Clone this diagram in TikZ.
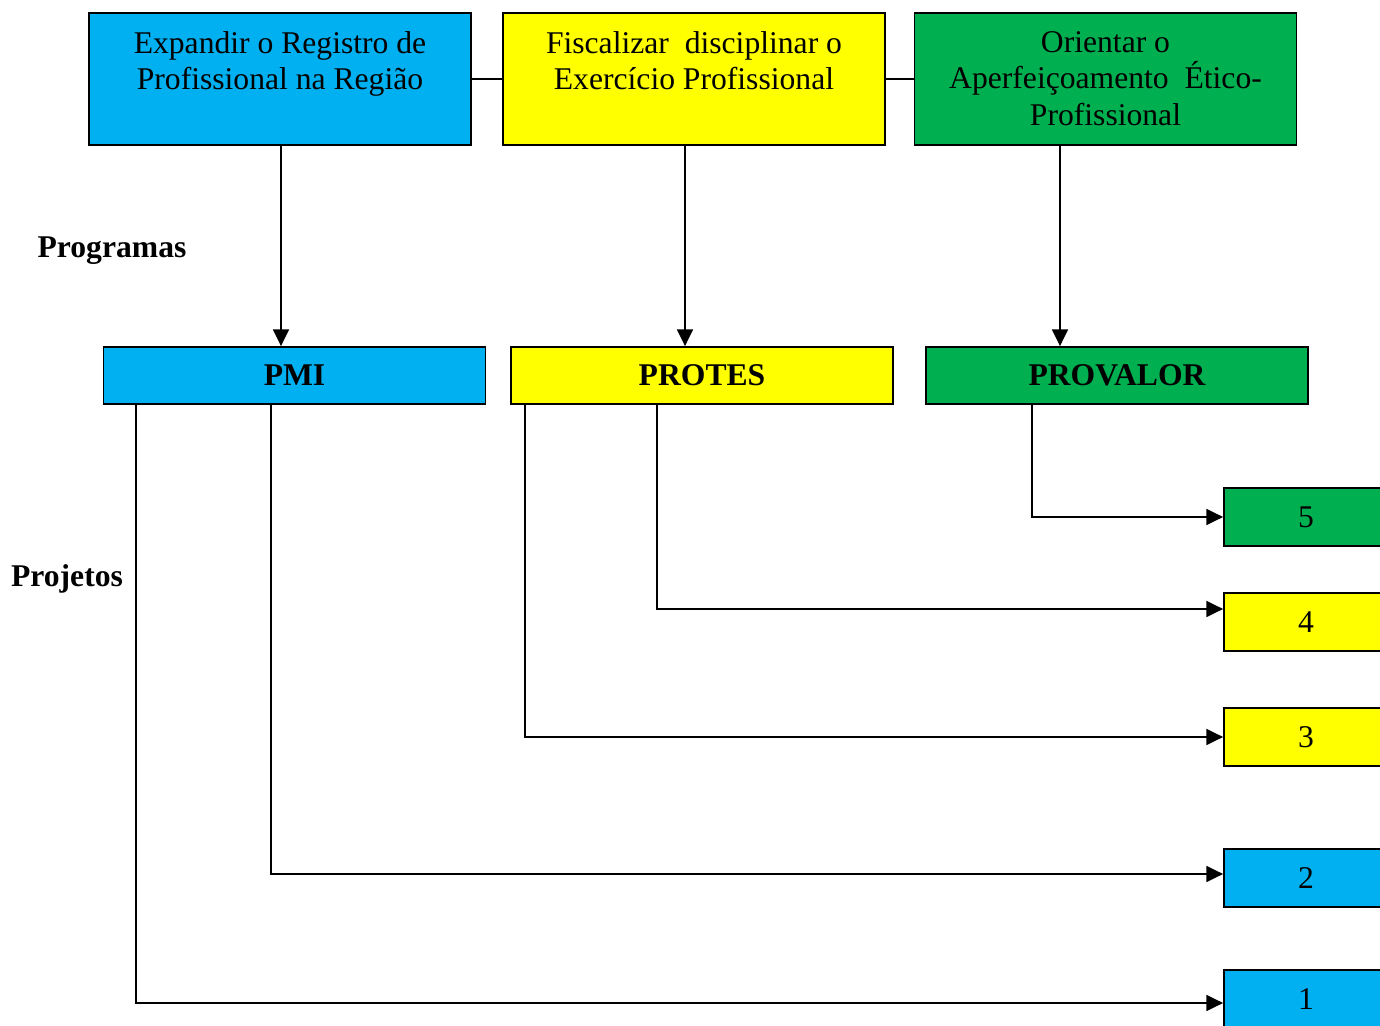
\documentclass[tikz,border=0pt]{standalone}
\usepackage{fontspec}
\setmainfont{Liberation Serif}
\usepackage{tikz}
\definecolor{azul}{RGB}{0,176,240}
\definecolor{amarelo}{RGB}{255,255,0}
\definecolor{verde}{RGB}{0,176,80}
\usetikzlibrary{arrows.meta}
\usetikzlibrary{positioning}
\tikzset{
  caixa/.style = {rectangle, draw=black, line width=1pt, inner sep=0pt,
    font=\fontsize{18}{20.7}\selectfont},
  texto/.style = {align=center, inner sep=0pt,
    font=\fontsize{18}{20.7}\selectfont},
  obj_a/.style = {caixa, minimum width=7.64cm, minimum height=2.64cm},% objetivo
  prg_a/.style = {caixa, minimum width=7.64cm, minimum height=1.14cm,
    font=\fontsize{18}{20.7}\selectfont\bfseries},% programa
  prj_a/.style = {caixa, minimum width=3.28cm, minimum height=1.16cm},% projeto
  seta/.style = {-{Triangle[length=9.5pt,width=9pt]}, line width=1.1pt},
  liga/.style = {-{Triangle[length=9.5pt,width=9pt]}, line width=1pt},
}

\begin{document}
\begin{tikzpicture}[x=0.02cm,y=-0.02cm]
  \useasboundingbox (0,0) rectangle (1380,1026);

  % objetivos
  \node[obj_a, fill=azul] (e1) at (280,79) {};
  \node[obj_a, fill=amarelo] (e2) at (694,79) {};
  \node[obj_a, fill=verde] (e3) at (1105.5,79) {};
  \node[texto, below=10.8pt of e1.north] (e1t) {Expandir o Registro de\\Profissional na Região};
  \node[texto, below=10.8pt of e2.north] (e2t) {Fiscalizar\ \ disciplinar o\\Exercício Profissional};
  \node[texto, below=10.8pt of e3.north] (e3t) {Orientar o\\Aperfeiçoamento\ \ Ético-\\Profissional};

  % programas
  \node[prg_a, fill=azul] (p1) at (294.5,375.5) {\raisebox{-1pt}{PMI}};
  \node[prg_a, fill=amarelo] (p2) at (702,375.5) {\raisebox{-1pt}{PROTES}};
  \node[prg_a, fill=verde] (p3) at (1117,375.5) {\raisebox{-1pt}{PROVALOR}};

  % projetos
  \node[prj_a, fill=verde] (j5) at (1306,517) {5};
  \node[prj_a, fill=amarelo] (j4) at (1306,622) {4};
  \node[prj_a, fill=amarelo] (j3) at (1306,737) {3};
  \node[prj_a, fill=azul] (j2) at (1306,878) {2};
  \node[prj_a, fill=azul] (j1) at (1306,999) {1};

  \node[texto, font=\fontsize{18}{20.7}\selectfont\bfseries] (lprog) at (112,251) {Programas};
  \node[texto, font=\fontsize{18}{20.7}\selectfont\bfseries] (lproj) at (67,579) {Projetos};

  % ligacoes
  \draw[line width=1pt] (e1.east) -- (e2.west);
  \draw[line width=1pt] (e2.east) -- (e3.west);
  \draw[seta] (e1.south -| 281,0) -- (p1.north -| 281,0);
  \draw[seta] (e2.south -| 685,0) -- (p2.north -| 685,0);
  \draw[seta] (e3.south -| 1060,0) -- (p3.north -| 1060,0);

  \draw[liga] (p3.south -| 1032,0) |- (j5.west);
  \draw[liga] (p2.south -| 657,0) -- (657,609) -- (j4.west |- 0,609);
  \draw[liga] (p2.south -| 525,0) |- (j3.west);
  \draw[liga] (p1.south -| 271,0) -- (271,874) -- (j2.west |- 0,874);
  \draw[liga] (p1.south -| 136,0) -- (136,1003) -- (j1.west |- 0,1003);
\end{tikzpicture}
\end{document}
